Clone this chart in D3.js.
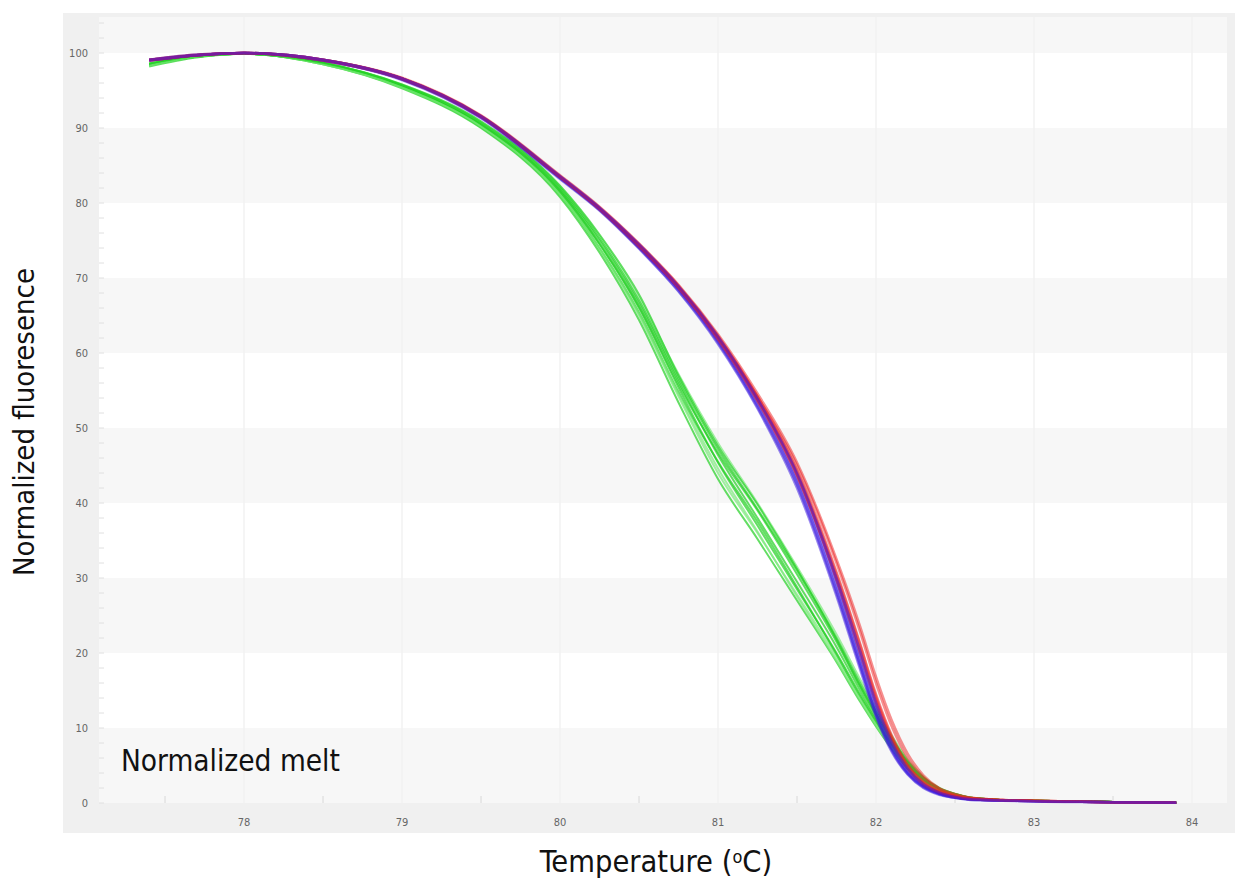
<!DOCTYPE html>
<html>
<meta charset="utf-8">
<head>
<title>Normalized melt</title>
<script src="https://cdnjs.cloudflare.com/ajax/libs/d3/7.8.5/d3.min.js"></script>
<style>
  body { margin: 0; background: #fff; }
  text { font-family: "DejaVu Sans Condensed", "DejaVu Sans", sans-serif; }
</style>
</head>
<body>
<script>

const width = 1249,
    height = 886;

// temperature grid (deg C) shared by every curve
const temps = [77.4, 77.7, 78, 78.5, 79, 79.5, 80, 80.25, 80.5, 80.75, 81, 81.25, 81.5,
    81.75, 81.9, 82, 82.1, 82.2, 82.3, 82.4, 82.5, 82.6, 82.8, 83, 83.5, 83.9];

// green group (shoulder at ~81)
const greenCurves = [
    [98.4, 99.5, 99.9, 98.6, 95.6, 90.4, 81.5, 74.5, 66.0, 55.4, 45.4, 37.0, 28.5, 20.0, 14.5, 11.0, 7.8, 5.0, 3.0, 1.8, 1.1, 0.7, 0.4, 0.3, 0.15, 0.05],
    [98.6, 99.6, 99.9, 98.7, 95.7, 90.6, 81.8, 75.0, 66.6, 56.2, 46.4, 38.0, 29.5, 20.8, 15.0, 11.3, 8.0, 5.1, 3.1, 1.8, 1.1, 0.7, 0.4, 0.3, 0.15, 0.05],
    [98.3, 99.5, 99.9, 98.5, 95.4, 90.1, 81.0, 73.8, 65.0, 54.2, 44.0, 36.0, 27.8, 19.4, 14.0, 10.6, 7.5, 4.8, 2.9, 1.7, 1.0, 0.6, 0.4, 0.3, 0.15, 0.05],
    [98.5, 99.5, 99.9, 98.6, 95.6, 90.5, 81.6, 74.6, 66.2, 55.8, 46.7, 39.0, 30.5, 21.5, 15.5, 11.8, 8.4, 5.4, 3.2, 1.9, 1.2, 0.7, 0.4, 0.3, 0.15, 0.05],
    [98.2, 99.4, 99.9, 98.5, 95.3, 90.0, 80.8, 73.4, 64.4, 53.4, 43.2, 35.2, 27.0, 18.8, 13.5, 10.2, 7.2, 4.6, 2.8, 1.6, 1.0, 0.6, 0.4, 0.3, 0.15, 0.05],
    [98.6, 99.6, 99.9, 98.7, 95.8, 90.8, 82.2, 75.6, 67.4, 57.2, 48.0, 40.0, 31.5, 22.5, 16.5, 12.6, 9.0, 5.8, 3.5, 2.0, 1.2, 0.7, 0.4, 0.3, 0.15, 0.05],
    [98.4, 99.5, 99.9, 98.6, 95.5, 90.3, 81.2, 74.0, 65.4, 54.8, 45.5, 37.5, 28.8, 19.8, 14.2, 10.8, 7.6, 4.9, 2.9, 1.7, 1.0, 0.6, 0.4, 0.3, 0.15, 0.05],
    [98.5, 99.6, 99.9, 98.7, 95.7, 90.7, 82.0, 75.3, 67.0, 56.6, 47.2, 39.2, 31.0, 22.0, 16.0, 12.2, 8.7, 5.6, 3.4, 2.0, 1.2, 0.7, 0.4, 0.3, 0.15, 0.05],
    [98.3, 99.5, 99.9, 98.5, 95.4, 90.2, 81.1, 73.9, 65.2, 54.5, 44.6, 36.2, 27.5, 19.0, 13.8, 10.4, 7.3, 4.7, 2.8, 1.7, 1.0, 0.6, 0.4, 0.3, 0.15, 0.05],
    [98.6, 99.6, 99.9, 98.7, 95.8, 90.9, 82.3, 75.8, 67.8, 57.0, 47.6, 39.8, 31.2, 21.8, 15.6, 11.8, 8.4, 5.4, 3.3, 1.9, 1.2, 0.7, 0.4, 0.3, 0.15, 0.05]
];

// red group
const redCurves = [
    [99.0, 99.7, 100, 99.1, 96.6, 91.6, 83.6, 79.4, 74.5, 69.0, 62.3, 54.2, 44.4, 30.8, 21.2, 14.5, 9.0, 5.2, 2.9, 1.6, 0.9, 0.6, 0.4, 0.3, 0.1, 0.05],
    [99.1, 99.7, 100, 99.1, 96.6, 91.5, 83.5, 79.3, 74.3, 68.8, 62.0, 53.8, 43.8, 30.0, 20.4, 13.8, 8.5, 4.8, 2.6, 1.5, 0.9, 0.5, 0.35, 0.25, 0.1, 0.05],
    [99.0, 99.7, 100, 99.0, 96.5, 91.4, 83.4, 79.2, 74.3, 68.8, 62.1, 54.2, 45.0, 32.0, 22.8, 16.0, 10.2, 6.0, 3.4, 1.9, 1.1, 0.7, 0.4, 0.3, 0.1, 0.05],
    [99.1, 99.8, 100, 99.1, 96.7, 91.7, 83.7, 79.5, 74.6, 69.1, 62.5, 54.6, 45.4, 32.5, 23.5, 16.8, 11.0, 6.6, 3.7, 2.0, 1.2, 0.7, 0.4, 0.3, 0.1, 0.05],
    [99.0, 99.7, 100, 99.0, 96.5, 91.5, 83.4, 79.1, 74.1, 68.6, 61.8, 53.6, 43.6, 29.8, 20.0, 13.4, 8.2, 4.6, 2.5, 1.4, 0.8, 0.5, 0.35, 0.25, 0.1, 0.05],
    [99.1, 99.7, 100, 99.1, 96.6, 91.6, 83.5, 79.3, 74.4, 68.9, 62.2, 54.0, 44.2, 30.5, 21.0, 14.2, 8.8, 5.0, 2.8, 1.6, 0.9, 0.6, 0.4, 0.3, 0.1, 0.05]
];

// blue group
const blueCurves = [
    [99.0, 99.7, 100, 99.0, 96.5, 91.5, 83.4, 79.2, 74.2, 68.6, 61.8, 53.4, 43.2, 29.0, 19.0, 12.5, 7.5, 4.2, 2.3, 1.3, 0.8, 0.5, 0.35, 0.25, 0.1, 0.05],
    [99.1, 99.7, 100, 99.0, 96.5, 91.4, 83.3, 79.1, 74.0, 68.3, 61.4, 52.8, 42.4, 28.0, 18.2, 11.8, 7.0, 3.9, 2.1, 1.2, 0.7, 0.5, 0.35, 0.25, 0.1, 0.05],
    [99.0, 99.7, 100, 99.1, 96.6, 91.6, 83.5, 79.3, 74.4, 68.8, 62.0, 53.8, 43.8, 29.6, 19.6, 13.0, 7.8, 4.4, 2.4, 1.3, 0.8, 0.5, 0.35, 0.25, 0.1, 0.05],
    [99.1, 99.8, 100, 99.1, 96.6, 91.5, 83.4, 79.2, 74.1, 68.5, 61.6, 53.1, 42.8, 28.4, 18.5, 12.0, 7.2, 4.0, 2.2, 1.2, 0.7, 0.5, 0.35, 0.25, 0.1, 0.05],
    [99.0, 99.7, 100, 99.0, 96.4, 91.3, 83.2, 79.0, 73.9, 68.2, 61.2, 52.6, 42.0, 27.6, 17.8, 11.5, 6.8, 3.8, 2.0, 1.1, 0.7, 0.4, 0.3, 0.2, 0.1, 0.05],
    [99.1, 99.7, 100, 99.1, 96.6, 91.6, 83.6, 79.4, 74.5, 68.9, 62.2, 53.9, 44.0, 30.0, 20.2, 13.4, 8.1, 4.6, 2.5, 1.4, 0.8, 0.5, 0.35, 0.25, 0.1, 0.05]
];

const xTicks = [78, 79, 80, 81, 82, 83, 84];
const yTicks = [0, 10, 20, 30, 40, 50, 60, 70, 80, 90, 100];

const svg = d3.select("body")
    .append("svg")
    .attr("width", width)
    .attr("height", height);

// outer gray panel
svg.append("rect")
    .attr("x", 63).attr("y", 13)
    .attr("width", 1172).attr("height", 820)
    .attr("fill", "#f0f0f0");

const plotLeft = 99, plotRight = 1227, plotTop = 17, plotBottom = 803;

const x = d3.scaleLinear()
    .domain([78 - 145 / 158, 84 + 35 / 158])
    .range([plotLeft, plotRight]);
const y = d3.scaleLinear()
    .domain([0, 100 + 36 / 7.5])
    .range([plotBottom, plotTop]);

// plot background with alternating bands
svg.append("rect")
    .attr("x", plotLeft).attr("y", plotTop)
    .attr("width", plotRight - plotLeft).attr("height", plotBottom - plotTop)
    .attr("fill", "#ffffff");
const bandStarts = [0, 20, 40, 60, 80, 100];
svg.selectAll("rect.band")
    .data(bandStarts)
    .enter()
    .append("rect")
    .attr("class", "band")
    .attr("x", plotLeft)
    .attr("width", plotRight - plotLeft)
    .attr("y", d => y(Math.min(d + 10, y.domain()[1])))
    .attr("height", d => y(d) - y(Math.min(d + 10, y.domain()[1])))
    .attr("fill", "#f7f7f7");

// faint vertical grid
svg.selectAll("line.vgrid")
    .data(xTicks)
    .enter()
    .append("line")
    .attr("class", "vgrid")
    .attr("x1", d => x(d)).attr("x2", d => x(d))
    .attr("y1", plotTop).attr("y2", plotBottom)
    .attr("stroke", "#f2f2f2")
    .attr("stroke-width", 1.5);

// minor ticks on y (every 2) and x (half degrees)
svg.selectAll("line.ymin")
    .data(d3.range(0, 105, 2))
    .enter()
    .append("line")
    .attr("x1", plotLeft).attr("x2", plotLeft + 5)
    .attr("y1", d => y(d)).attr("y2", d => y(d))
    .attr("stroke", "#e0e0e0");
svg.selectAll("line.xmin")
    .data([77.5, 78.5, 79.5, 80.5, 81.5, 82.5, 83.5])
    .enter()
    .append("line")
    .attr("x1", d => x(d)).attr("x2", d => x(d))
    .attr("y1", plotBottom).attr("y2", plotBottom - 7)
    .attr("stroke", "#d8d8d8");

// tick labels
svg.selectAll("text.ylab")
    .data(yTicks)
    .enter()
    .append("text")
    .attr("x", 88)
    .attr("y", d => y(d) + 4)
    .attr("text-anchor", "end")
    .attr("font-size", "11px")
    .attr("fill", "#666")
    .text(d => d);
svg.selectAll("text.xlab")
    .data(xTicks)
    .enter()
    .append("text")
    .attr("x", d => x(d))
    .attr("y", 826)
    .attr("text-anchor", "middle")
    .attr("font-size", "11px")
    .attr("fill", "#666")
    .text(d => d);

// curves
const line = d3.line()
    .x((d, i) => x(temps[i]))
    .y(d => y(d))
    .curve(d3.curveMonotoneX);

svg.selectAll("path.green")
    .data(greenCurves)
    .enter()
    .append("path")
    .attr("d", line)
    .attr("fill", "none")
    .attr("stroke", (d, i) => i % 3 === 2 ? "#7aea7a" : "#22d022")
    .attr("stroke-opacity", 0.7)
    .attr("stroke-width", 2);

// red and blue drawn interleaved so they blend to purple
const rb = [];
redCurves.forEach((c, i) => {
    rb.push({ v: c, col: "#ee2222" });
    rb.push({ v: blueCurves[i], col: "#3a18e0" });
});
svg.selectAll("path.rb")
    .data(rb)
    .enter()
    .append("path")
    .attr("d", d => line(d.v))
    .attr("fill", "none")
    .attr("stroke", d => d.col)
    .attr("stroke-opacity", 0.5)
    .attr("stroke-width", 2.5);

// labels
svg.append("text")
    .attr("x", 121)
    .attr("y", 771)
    .attr("font-size", "29.5px")
    .attr("fill", "#111")
    .text("Normalized melt");

svg.append("text")
    .attr("transform", "translate(34,422) rotate(-90)")
    .attr("text-anchor", "middle")
    .attr("font-family", "'Liberation Sans', Arial, sans-serif")
    .attr("font-size", "29px")
    .attr("fill", "#111")
    .text("Normalized fluoresence");

const xt = svg.append("text")
    .attr("x", 656)
    .attr("y", 872)
    .attr("text-anchor", "middle")
    .attr("font-size", "30.5px")
    .attr("fill", "#111");
xt.append("tspan").text("Temperature (");
xt.append("tspan").attr("font-size", "18px").attr("dy", -9).text("o");
xt.append("tspan").attr("dy", 9).text("C)");

</script>
</body>
</html>
